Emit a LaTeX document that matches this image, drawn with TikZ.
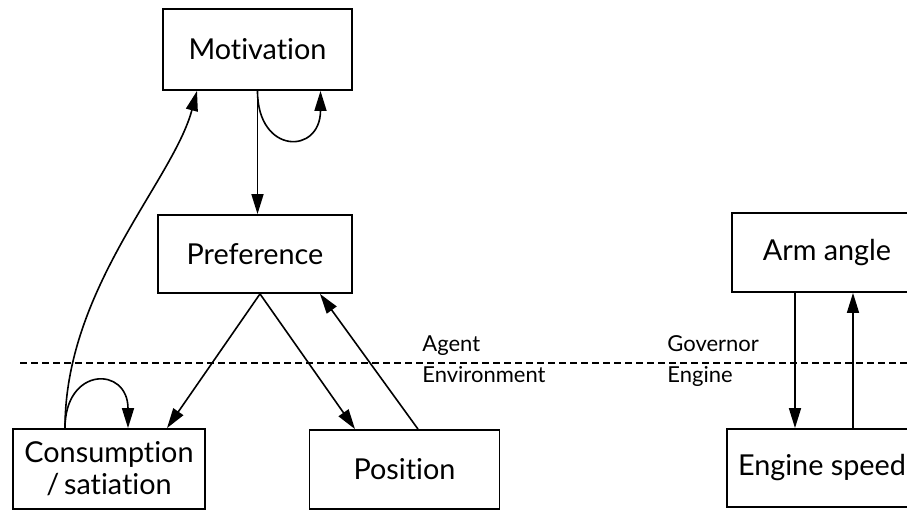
\documentclass[tikz,border=0pt]{standalone}
\usepackage{fontspec}
\setmainfont{Lato}[Ligatures=NoCommon]
\usepackage{tikz}
\usetikzlibrary{arrows.meta,calc,positioning}

\tikzset{
	box/.style={draw=black,line width=0.9pt,fill=white,align=center,inner sep=0pt,
		minimum width=95pt,minimum height=39.5pt,font=\fontsize{14.4}{16}\selectfont},
	side/.style={anchor=base west,inner sep=0pt,font=\fontsize{11}{13}\selectfont},
	link/.style={draw=black,line width=0.8pt,-{Triangle[length=10pt,width=6pt]}}
}

\begin{document}
\begin{tikzpicture}
	\clip (0pt,0pt) rectangle (453.5pt,255pt);
	
	\node[box,minimum width=94.5pt,minimum height=40.5pt] (mot) at (128.75pt,230.25pt){Motivation};
	\node[box,minimum width=97pt,minimum height=39pt] (pref) at (127.5pt,128pt){Preference};
	\node[box,minimum width=96pt,minimum height=40pt] (cons) at (54.5pt,20.5pt){Consumption\\/\,satiation};
	\node[box] (pos) at (202.25pt,20.25pt){Position};
	\node[box] (arm) at (413.5pt,128.75pt){Arm angle};
	\node[box,minimum height=39pt] (eng) at (411pt,21pt){Engine speed};

	% agent / environment border
	\draw[line width=1pt,dash pattern=on 3.5pt off 2pt] (10pt,73.5pt)--(453.5pt,73.5pt);
	\node[side] (ag) at (211pt,79pt){Agent};
	\node[side] (env) at (211pt,63.5pt){Environment};
	\node[side] (gov) at (333.5pt,79pt){Governor};
	\node[side] (en) at (333.5pt,63.5pt){Engine};

	\draw[link] (mot.south)--(mot.south |- pref.north);
	\draw[link] (mot.south) .. controls +(0pt,-32pt) and +(0pt,-32pt) .. ([xshift=31.5pt]mot.south);
	\draw[link] ([xshift=-22pt]cons.north) .. controls +(0pt,70pt) and +(-12pt,-45pt) .. ([xshift=-30.25pt]mot.south);
	\draw[link] ([xshift=-22pt]cons.north) .. controls +(0pt,31pt) and +(0pt,31pt) .. ([xshift=9.5pt]cons.north);

	\draw[link] ([xshift=2.5pt]pref.south)--([xshift=29pt]cons.north);
	\draw[link] ([xshift=2.5pt]pref.south)--([xshift=-24.75pt]pos.north);
	\draw[link] ([xshift=6.75pt]pos.north)--([xshift=32.5pt]pref.south);

	\draw[link] ([xshift=-16pt]arm.south)--([xshift=-16pt]arm.south |- eng.north);
	\draw[link] ([xshift=15.5pt]eng.north)--([xshift=15.5pt]eng.north |- arm.south);
\end{tikzpicture}
\end{document}
